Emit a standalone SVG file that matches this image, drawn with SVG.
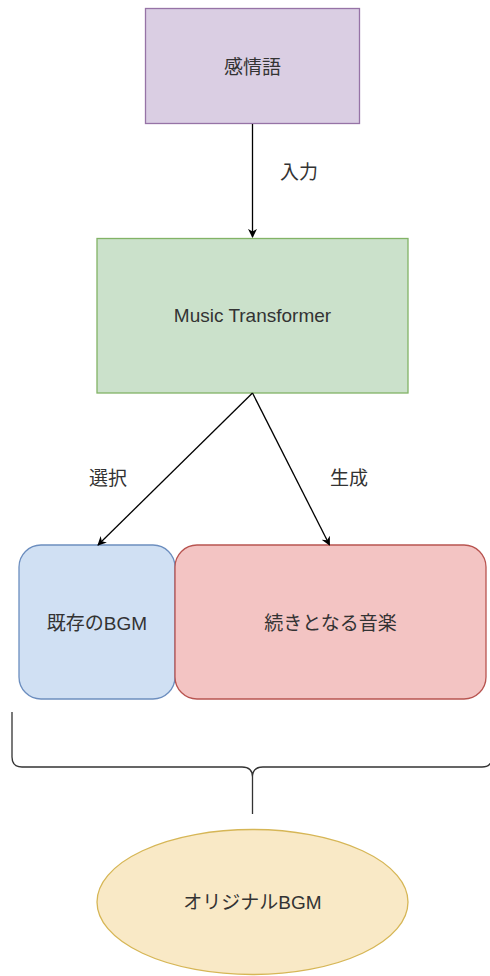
<svg xmlns="http://www.w3.org/2000/svg" width="490" height="976" viewBox="0 0 490 976">
<defs>
<style>
text{font-family:"Liberation Sans","Noto Sans CJK JP",sans-serif;font-size:19px;fill:#333;text-anchor:middle;dominant-baseline:central}
.edge{stroke:#000;stroke-width:1.3;fill:none}
</style>
<marker id="arr" viewBox="0 0 10 10" refX="9" refY="5" markerWidth="9" markerHeight="9" orient="auto" markerUnits="userSpaceOnUse">
<path d="M0,0 L10,5 L0,10 L3,5 Z" fill="#000"/>
</marker>
</defs>
<rect width="490" height="976" fill="#fff"/>
<g id="n-kanjougo">
<rect x="145.5" y="8.5" width="214" height="115" fill="#dacee3" stroke="#9673a6" stroke-width="1.3"/>
<text x="252.5" y="67">感情語</text>
</g>
<g id="n-transformer">
<rect x="97" y="238.5" width="311" height="154.5" fill="#cbe1cb" stroke="#82b366" stroke-width="1.3"/>
<text x="252.5" y="315">Music Transformer</text>
</g>
<g id="n-existing">
<rect x="19" y="545" width="156" height="154" rx="22" fill="#d0e0f3" stroke="#6c8ebf" stroke-width="1.3"/>
<text x="97" y="623">既存のBGM</text>
</g>
<g id="n-continuation">
<rect x="175" y="545" width="311" height="154" rx="22" fill="#f3c4c3" stroke="#b85450" stroke-width="1.3"/>
<text x="330.5" y="623">続きとなる音楽</text>
</g>
<g id="n-brace">
<path d="M12,712 V757 Q12,767 22,767 H242 Q252.5,767 252.5,777 M252.5,777 Q252.5,767 263,767 H482 Q492,767 492,757 V712 M252.5,777 V814" fill="none" stroke="#333" stroke-width="1.3"/>
</g>
<g id="n-original">
<ellipse cx="252.5" cy="902" rx="155.5" ry="72.5" fill="#f9e9c6" stroke="#d6b656" stroke-width="1.3"/>
<text x="252.5" y="902">オリジナルBGM</text>
</g>
<g id="connectors">
<path class="edge" d="M252.5,124 V237" marker-end="url(#arr)"/>
<path class="edge" d="M252.5,393 L98,545" marker-end="url(#arr)"/>
<path class="edge" d="M252.5,393 L329.5,545" marker-end="url(#arr)"/>
<text x="299" y="172">入力</text>
<text x="108" y="478">選択</text>
<text x="349" y="478">生成</text>
</g>
</svg>
